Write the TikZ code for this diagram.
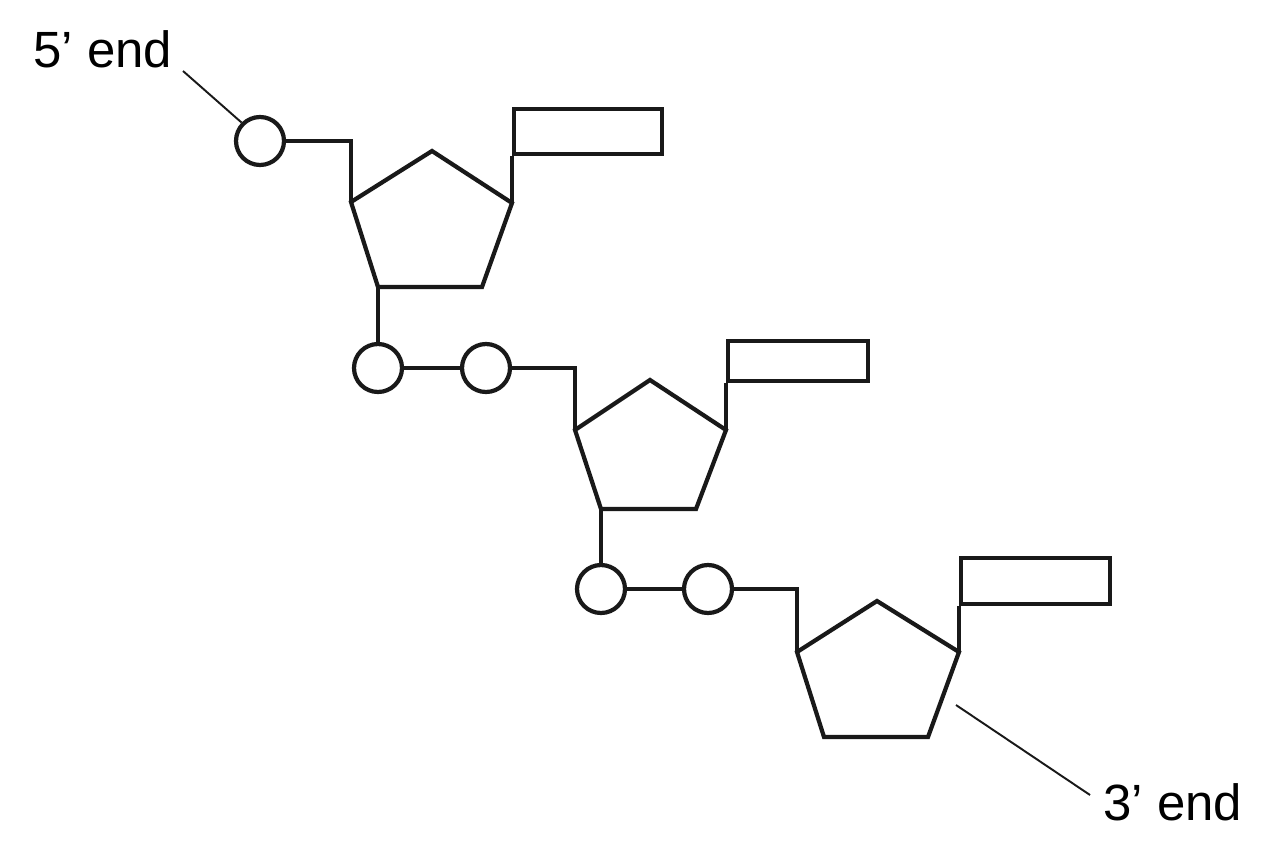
\documentclass[tikz,border=0pt]{standalone}
\usepackage{fontspec}
\setmainfont{Liberation Sans}
\usetikzlibrary{positioning}

\tikzset{
  strand/.style={line width=2.4pt, draw=black!90},
  phos/.style={circle, strand, minimum size=0.96cm, inner sep=0pt},
  base/.style={rectangle, strand, minimum width=2.92cm, minimum height=0.86cm, inner sep=0pt},
  leader/.style={line width=1.1pt, draw=black!90},
  endlabel/.style={inner sep=0pt, font=\fontsize{29}{35}\selectfont}
}

\begin{document}
\begin{tikzpicture}[x=0.02cm, y=-0.02cm]
    \useasboundingbox (0,0) rectangle (1264,848);

    % sugar rings
        \coordinate (s1l) at (351,202);
        \coordinate (s1t) at (432,151);
        \coordinate (s1r) at (512,203);
        \coordinate (s1br) at (482,287);
        \coordinate (s1bl) at (378,287);

        \coordinate (s2l) at (575,430);
        \coordinate (s2t) at (650,380);
        \coordinate (s2r) at (726,430);
        \coordinate (s2br) at (696,509);
        \coordinate (s2bl) at (601,509);

        \coordinate (s3l) at (797,652);
        \coordinate (s3t) at (877,601);
        \coordinate (s3r) at (959,652);
        \coordinate (s3br) at (928,737);
        \coordinate (s3bl) at (824,737);

    % phosphates
        \node[phos] (p0) at (260,141) {};
        \node[phos] (p1) at (378,368) {};
        \node[phos] (p2) at (486,368) {};
        \node[phos] (p3) at (601,589) {};
        \node[phos] (p4) at (708,589) {};

    % bases
        \node[base, anchor=south west, minimum width=2.96cm, minimum height=0.9cm] (b1) at (512,156) {};
        \node[base, anchor=south west, minimum width=2.8cm, minimum height=0.8cm] (b2) at (726,383) {};
        \node[base, anchor=south west, minimum width=2.98cm, minimum height=0.92cm] (b3) at (959,606) {};

    % end labels
        \node[endlabel, anchor=base west] (end5) at (33,68) {5’ end};
        \node[endlabel, anchor=base west] (end3) at (1103,820) {3’ end};
        \coordinate (t5) at (183,71);
        \coordinate (t3) at (1090,795);
        \coordinate (c3) at (956,705);

    % rings
        \draw[strand, line join=miter] (s1l) -- (s1t) -- (s1r) -- (s1br) -- (s1bl) -- cycle;
        \draw[strand, line join=miter] (s2l) -- (s2t) -- (s2r) -- (s2br) -- (s2bl) -- cycle;
        \draw[strand, line join=miter] (s3l) -- (s3t) -- (s3r) -- (s3br) -- (s3bl) -- cycle;

    % backbone
        \draw[strand]
            (p0.east) -- (p0.east -| s1l) -- (s1l)
            (s1r) -- (b1.south west)
            (s1bl) -- (p1.north)
            (p1) -- (p2)
            (p2.east) -- (p2.east -| s2l) -- (s2l)
            (s2r) -- (b2.south west)
            (s2bl) -- (p3.north)
            (p3) -- (p4)
            (p4.east) -- (p4.east -| s3l) -- (s3l)
            (s3r) -- (b3.south west);

    % leaders
        \draw[leader] (t5) -- (p0.135);
        \draw[leader] (c3) -- (t3);
\end{tikzpicture}
\end{document}
